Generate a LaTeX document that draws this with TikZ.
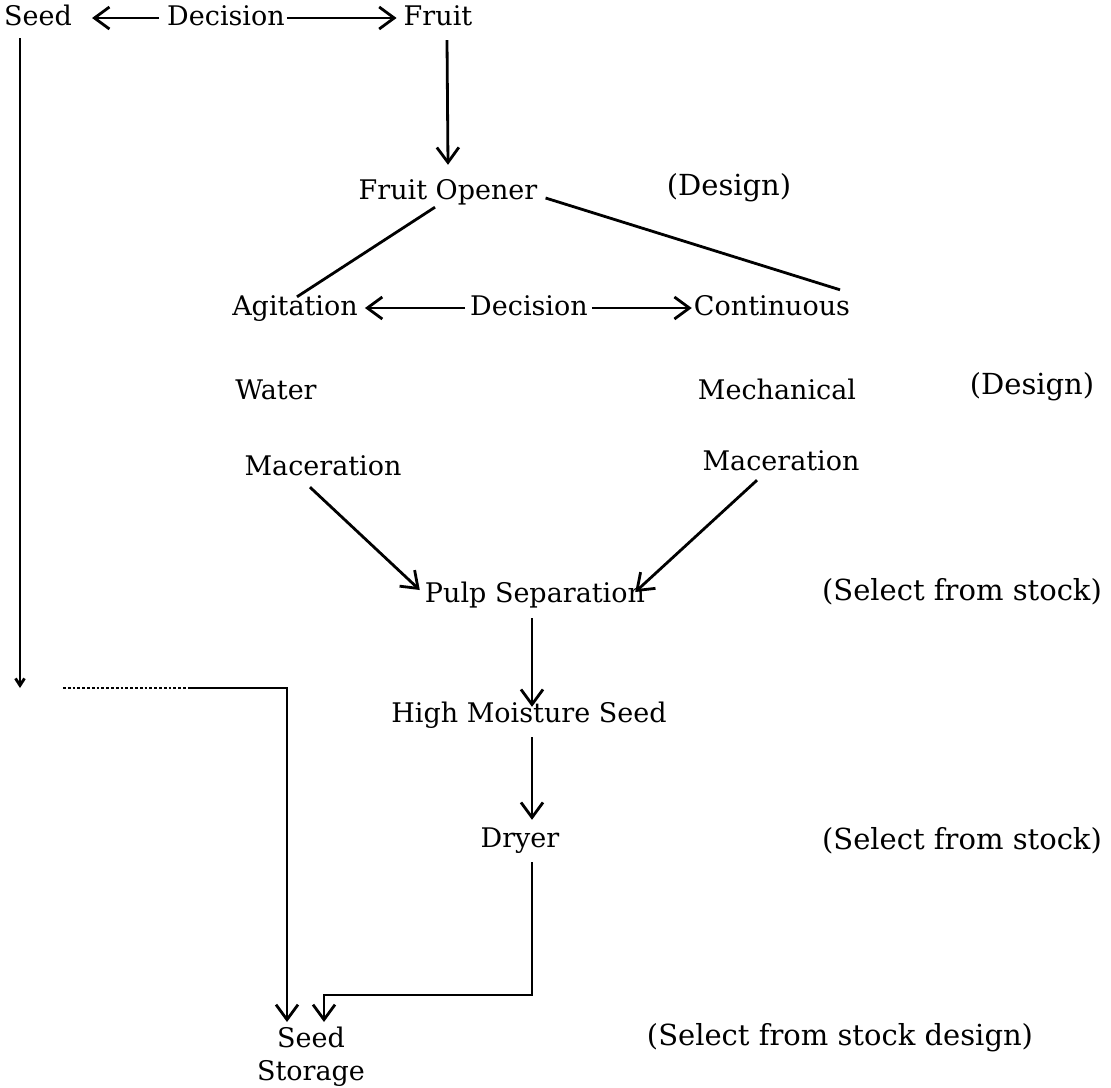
\documentclass[tikz,border=0pt]{standalone}
\usepackage{fontspec}
\setmainfont{DejaVu Serif}
\usetikzlibrary{arrows.meta}
\begin{document}
\begin{tikzpicture}[x=1pt,y=-1pt,
  lbl/.style={inner sep=0pt,font=\fontsize{27}{33}\selectfont,text height=20pt,text depth=6pt},
  remark/.style={lbl,font=\fontsize{29}{33}\selectfont},
  ln/.style={line width=2.8pt},
  arr/.style={ln,-{Straight Barb[length=15pt,width=22pt,line width=2.8pt]}},
  smallarr/.style={ln,-{Straight Barb[length=7pt,width=9pt,line width=2.8pt]}}]
\useasboundingbox (0,0) rectangle (1111,1087);
% process steps
\node[lbl] (seed)   at (38,18)   {Seed};
\node[lbl] (dec1)   at (226,18)  {Decision};
\node[lbl] (fruit)  at (438,18)  {Fruit};
\node[lbl] (opener) at (448,192) {Fruit Opener};
\node[lbl] (agit)   at (295,308) {Agitation};
\node[lbl] (dec2)   at (529,308) {Decision};
\node[lbl] (cont)   at (772,308) {Continuous};
\node[lbl] (water)  at (276,392) {Water};
\node[lbl] (mech)   at (777,392) {Mechanical};
\node[lbl] (mac1)   at (323,468) {Maceration};
\node[lbl] (mac2)   at (781,463) {Maceration};
\node[lbl] (pulp)   at (535,595) {Pulp Separation};
\node[lbl] (hms)    at (529,715) {High Moisture Seed};
\node[lbl] (dryer)  at (520,840) {Dryer};
\node[inner sep=0pt,font=\fontsize{27}{33}\selectfont,align=center,anchor=north]
  (store) at (311,1027) {Seed\\Storage};
% remarks
\node[remark] (rem1) at (729,188)  {(Design)};
\node[remark] (rem2) at (1032,387) {(Design)};
\node[remark] (rem3) at (962,593)  {(Select from stock)};
\node[remark] (rem4) at (962,842)  {(Select from stock)};
\node[remark] (rem5) at (840,1038) {(Select from stock design)};
% decisions
\draw[arr] ([xshift=-8pt]dec1.west) -- ([xshift=20pt]seed.east);
\draw[arr] ([xshift=2pt]dec1.east) -- ([xshift=-7pt]fruit.west);
\draw[arr] ([xshift=-5pt]dec2.west) -- ([xshift=7pt]agit.east);
\draw[arr] ([xshift=4pt]dec2.east) -- ([xshift=-2pt]cont.west);
% main line
\draw[arr] ([xshift=9pt,yshift=-9pt]fruit.south) -- ([yshift=14pt]opener.north);
\draw[ln] ([xshift=-13pt,yshift=-2pt]opener.south) -- ([xshift=2pt,yshift=-2pt]agit.north);
\draw[ln] ([xshift=8pt,yshift=-6pt]opener.east) -- ([xshift=68pt,yshift=5pt]cont.north);
\draw[arr] ([xshift=-13pt,yshift=-6pt]mac1.south) -- ([xshift=-5pt,yshift=5pt]pulp.west);
\draw[arr] ([xshift=-24pt,yshift=-4pt]mac2.south) -- ([xshift=-10pt,yshift=3pt]pulp.east);
\draw[arr] ([xshift=-3pt,yshift=-10pt]pulp.south) -- ([xshift=3pt,yshift=-5pt]hms.north);
\draw[arr] ([xshift=3pt,yshift=-9pt]hms.south) -- ([xshift=12pt,yshift=7pt]dryer.north);
% to storage
\coordinate (seedend) at (20,688);
\draw[smallarr] ([xshift=-18pt,yshift=-7pt]seed.south) -- (seedend);
\coordinate (dotstart) at (63,688);
\coordinate (solidstart) at (190,688);
\coordinate (corner) at (287,688);
\draw[ln,dotted] (dotstart) -- (solidstart);
\draw[arr] (solidstart) -- (corner) -- ([yshift=5pt]store.north -| corner);
\coordinate (bend) at (532,995);
\coordinate (bend2) at (324,995);
\draw[arr] ([xshift=12pt,yshift=-9pt]dryer.south) -- (bend) -- (bend2) -- ([yshift=5pt]store.north -| bend2);
\end{tikzpicture}
\end{document}
